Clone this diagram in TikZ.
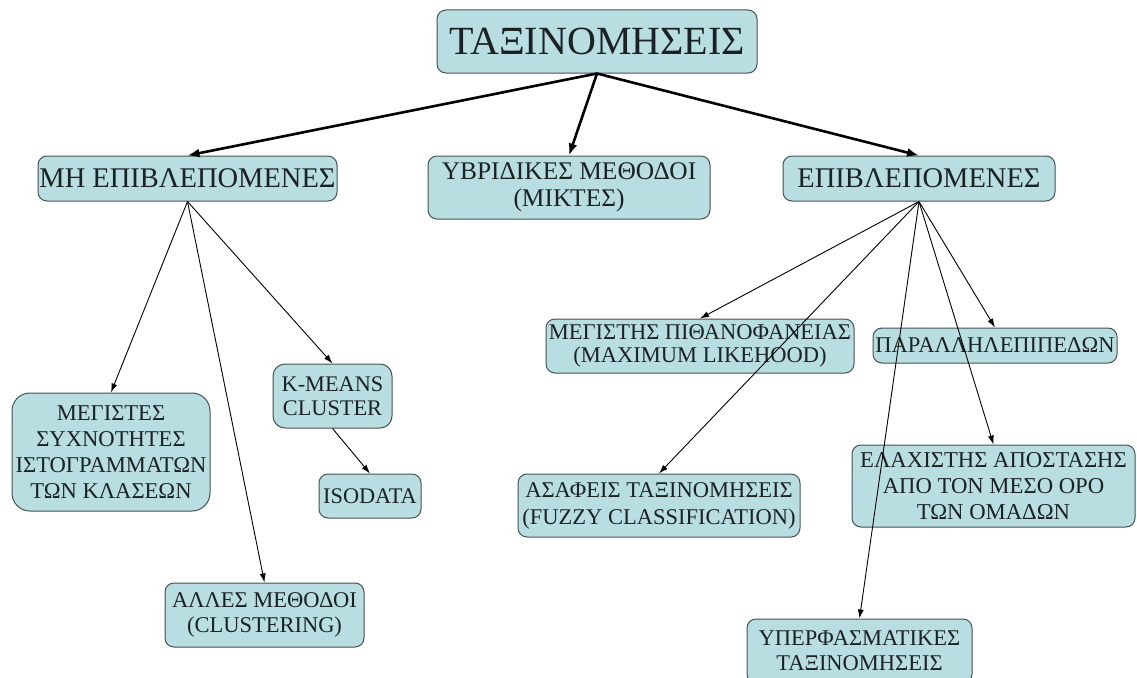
\documentclass[tikz,border=0pt]{standalone}
\usepackage{fontspec}
\setmainfont{Liberation Serif}
\usetikzlibrary{arrows.meta}
\definecolor{boxfill}{RGB}{184,222,226}
\definecolor{boxline}{RGB}{70,82,84}
\definecolor{txt}{RGB}{28,34,36}
\begin{document}
\begin{tikzpicture}[x=1pt,y=-1pt,
  box/.style={draw=boxline, fill=boxfill, line width=1pt, rounded corners=9pt,
    text=txt, align=center, inner sep=0pt},
  fs/.style 2 args={font=\fontsize{#1}{#2}\selectfont},
  bigarrow/.style={line width=2.6pt, -{Latex[length=12pt,width=9pt]}},
  smallarrow/.style={line width=0.9pt, -{Latex[length=9pt,width=6pt]}}]
\useasboundingbox (0,0) rectangle (1137,677);
\clip (0,0) rectangle (1137,677);
\fill[white] (0,0) rectangle (1137,677);

% top
\node[box, fs={40}{46}, minimum width=320pt, minimum height=63pt] (tax) at (597,41.5) {ΤΑΞΙΝΟΜΗΣΕΙΣ};

% level 1
\node[box, fs={28.5}{30}, minimum width=299pt, minimum height=45pt] (mh) at (187.5,178.5) {ΜΗ ΕΠΙΒΛΕΠΟΜΕΝΕΣ};
\node[box, fs={25.4}{27.5}, minimum width=282pt, minimum height=63pt] (yb) at (569,187.5) {ΥΒΡΙΔΙΚΕΣ ΜΕΘΟΔΟΙ\\(ΜΙΚΤΕΣ)};
\node[box, fs={28.5}{30}, minimum width=272pt, minimum height=45pt] (ep) at (919,178.5) {ΕΠΙΒΛΕΠΟΜΕΝΕΣ};

% unsupervised
\node[box, rounded corners=18pt, fs={22.6}{26}, minimum width=198pt, minimum height=118pt] (meg) at (111,452) {ΜΕΓΙΣΤΕΣ\\ΣΥΧΝΟΤΗΤΕΣ\\ΙΣΤΟΓΡΑΜΜΑΤΩΝ\\ΤΩΝ ΚΛΑΣΕΩΝ};
\node[box, rounded corners=12pt, fs={22.3}{24}, minimum width=119pt, minimum height=64pt] (km) at (332.5,396) {K-MEANS\\CLUSTER};
\node[box, fs={22.3}{24}, minimum width=102pt, minimum height=44pt] (iso) at (370,496) {ISODATA};
\node[box, fs={22.5}{25}, minimum width=199pt, minimum height=64pt] (all) at (264.5,615) {ΑΛΛΕΣ ΜΕΘΟΔΟΙ\\(CLUSTERING)};

% supervised
\node[box, fs={22.5}{22.5}, minimum width=308pt, minimum height=54pt] (max) at (700,346) {ΜΕΓΙΣΤΗΣ ΠΙΘΑΝΟΦΑΝΕΙΑΣ\\(MAXIMUM LIKEHOOD)};
\node[box, fs={22.5}{24}, minimum width=244pt, minimum height=35pt] (par) at (995,345.5) {ΠΑΡΑΛΛΗΛΕΠΙΠΕΔΩΝ};
\node[box, fs={22.5}{27}, minimum width=282pt, minimum height=63pt] (asa) at (659,505.5) {ΑΣΑΦΕΙΣ ΤΑΞΙΝΟΜΗΣΕΙΣ\\(FUZZY CLASSIFICATION)};
\node[box, fs={22.7}{26}, minimum width=283pt, minimum height=82pt] (ela) at (993.5,486) {ΕΛΑΧΙΣΤΗΣ ΑΠΟΣΤΑΣΗΣ\\ΑΠΟ ΤΟΝ ΜΕΣΟ ΟΡΟ\\ΤΩΝ ΟΜΑΔΩΝ};
\node[box, fs={22.5}{25}, minimum width=225pt, minimum height=64pt] (yp) at (859.5,651) {ΥΠΕΡΦΑΣΜΑΤΙΚΕΣ\\ΤΑΞΙΝΟΜΗΣΕΙΣ};

% connectors
\draw[bigarrow] (tax.south) -- (mh.north);
\draw[bigarrow] (tax.south) -- (yb.north);
\draw[bigarrow] (tax.south) -- (ep.north);

\draw[smallarrow] (mh.south) -- (meg.north);
\draw[smallarrow] (mh.south) -- (all.north);
\draw[smallarrow] (mh.south) -- (km.north);
\draw[smallarrow] (km.south) -- (iso.north);

\draw[smallarrow] (ep.south) -- (max.north);
\draw[smallarrow] (ep.south) -- (asa.north);
\draw[smallarrow] (ep.south) -- (yp.north);
\draw[smallarrow] (ep.south) -- (ela.north);
\draw[smallarrow] (ep.south) -- (par.north);
\end{tikzpicture}
\end{document}
